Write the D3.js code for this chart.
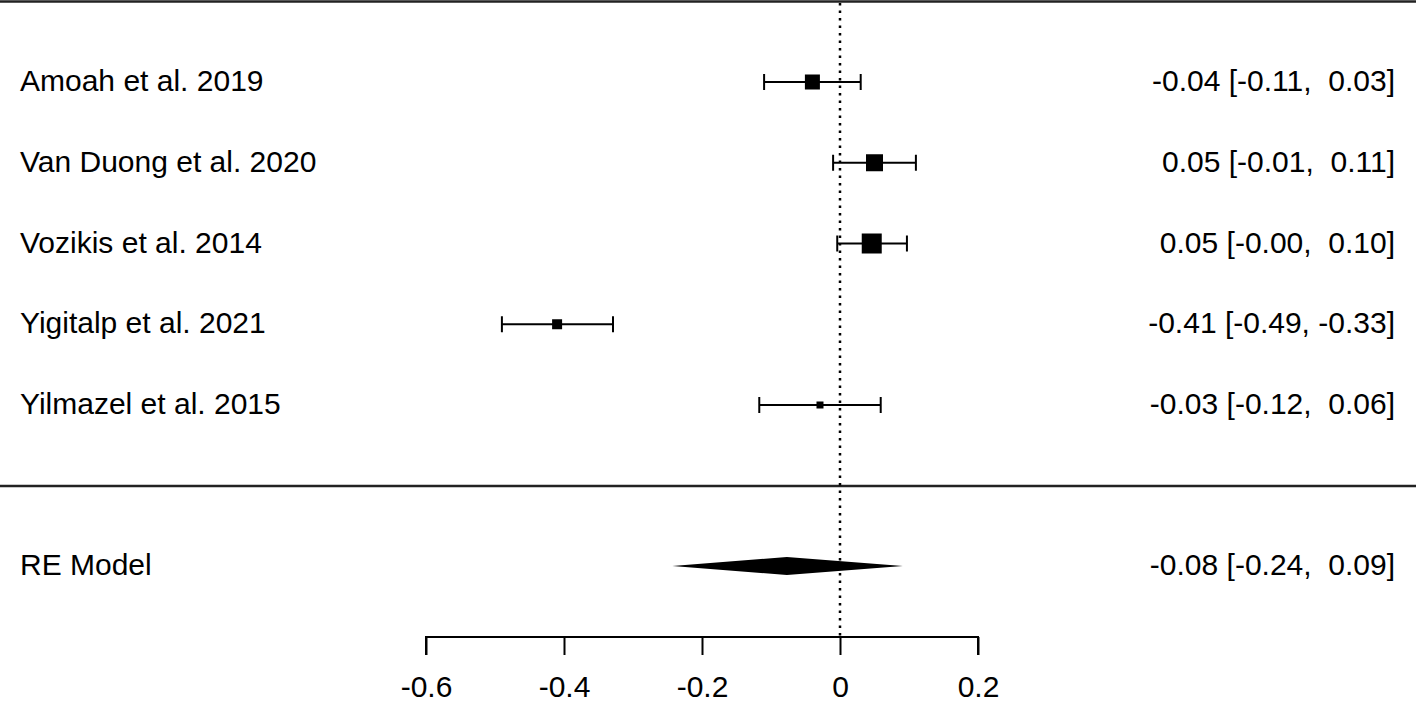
<!DOCTYPE html>
<html><head><meta charset="utf-8">
<script src="https://cdn.jsdelivr.net/npm/d3@7"></script>
<style>body{margin:0;background:#fff}svg{display:block}text{font-family:"Liberation Sans",Arial,Helvetica,sans-serif;fill:#000}</style>
</head><body>
<script>
const studies = ["Amoah et al. 2019","Van Duong et al. 2020","Vozikis et al. 2014","Yigitalp et al. 2021","Yilmazel et al. 2015"];
const estimates = [-0.04, 0.05, 0.046, -0.41, -0.029];
const lower = [-0.11, -0.01, -0.004, -0.49, -0.117];
const upper = [0.03, 0.11, 0.097, -0.329, 0.059];
const estLabels = ["-0.04 [-0.11,  0.03]","0.05 [-0.01,  0.11]","0.05 [-0.00,  0.10]","-0.41 [-0.49, -0.33]","-0.03 [-0.12,  0.06]"];
const relWeights = [15, 17, 20, 10, 7];
const summaryName = "RE Model";
const summary = {est: -0.077, lo: -0.243, hi: 0.091};
const summaryLabel = "-0.08 [-0.24,  0.09]";
const xTicks = [-0.6, -0.4, -0.2, 0, 0.2];
const xTickLabels = ["-0.6", "-0.4", "-0.2", "0", "0.2"];

const W = 1416, H = 704;
const svg = d3.select("body").append("svg").attr("width", W).attr("height", H);
const x = d3.scaleLinear().domain([-0.6, 0.2]).range([426, 978]);
const rowY = d3.scaleLinear().domain([0, 4]).range([82, 405]);
const summaryY = 566;
const size = d3.scaleLinear().domain([d3.min(relWeights), d3.max(relWeights)]).range([7, 20]);
const fs = 30;

// top and separator lines
svg.append("line").attr("x1",0).attr("x2",W).attr("y1",1.5).attr("y2",1.5).attr("stroke","#222").attr("stroke-width",2.5);
svg.append("line").attr("x1",0).attr("x2",W).attr("y1",486).attr("y2",486).attr("stroke","#222").attr("stroke-width",2.5);

// reference line at 0
svg.append("line").attr("x1",x(0)).attr("x2",x(0)).attr("y1",3).attr("y2",636)
  .attr("stroke","#000").attr("stroke-width",2.5).attr("stroke-dasharray","2.5,5");

const rows = svg.append("g").selectAll("g").data(studies).join("g")
  .attr("transform",(d,i)=>`translate(0,${rowY(i)})`);
rows.append("line").attr("x1",(d,i)=>x(lower[i])).attr("x2",(d,i)=>x(upper[i]))
  .attr("stroke","#000").attr("stroke-width",2);
rows.append("line").attr("x1",(d,i)=>x(lower[i])).attr("x2",(d,i)=>x(lower[i])).attr("y1",-8).attr("y2",8)
  .attr("stroke","#000").attr("stroke-width",2);
rows.append("line").attr("x1",(d,i)=>x(upper[i])).attr("x2",(d,i)=>x(upper[i])).attr("y1",-8).attr("y2",8)
  .attr("stroke","#000").attr("stroke-width",2);
rows.append("rect").attr("x",(d,i)=>x(estimates[i])-size(relWeights[i])/2).attr("y",(d,i)=>-size(relWeights[i])/2)
  .attr("width",(d,i)=>size(relWeights[i])).attr("height",(d,i)=>size(relWeights[i])).attr("fill","#000");
rows.append("text").attr("x",20).attr("y",9).attr("font-size",fs).text(d=>d);
rows.append("text").attr("x",1395).attr("y",9).attr("text-anchor","end").attr("font-size",fs).style("white-space","pre").text((d,i)=>estLabels[i]);

// summary diamond
const dh = 9;
svg.append("polygon").attr("points",[
  [x(summary.lo), summaryY],[x(summary.est), summaryY-dh],[x(summary.hi), summaryY],[x(summary.est), summaryY+dh]
].map(p=>p.join(",")).join(" ")).attr("fill","#000");
svg.append("text").attr("x",20).attr("y",summaryY+9).attr("font-size",fs).text(summaryName);
svg.append("text").attr("x",1395).attr("y",summaryY+9).attr("text-anchor","end").attr("font-size",fs).style("white-space","pre").text(summaryLabel);

// axis
const axis = d3.axisBottom(x).tickValues(xTicks).tickSize(18).tickPadding(21).tickFormat((d,i)=>xTickLabels[i]);
const ag = svg.append("g").attr("transform","translate(0,637)").call(axis);
ag.select(".domain").attr("stroke","#000").attr("stroke-width",2).attr("d",`M${x(-0.6)},18V0H${x(0.2)}V18`);
ag.selectAll(".tick line").attr("stroke","#000").attr("stroke-width",2);
ag.selectAll(".tick text").attr("font-size",fs).attr("font-family","Liberation Sans, Arial, sans-serif").attr("fill","#000");
</script>
</body></html>
